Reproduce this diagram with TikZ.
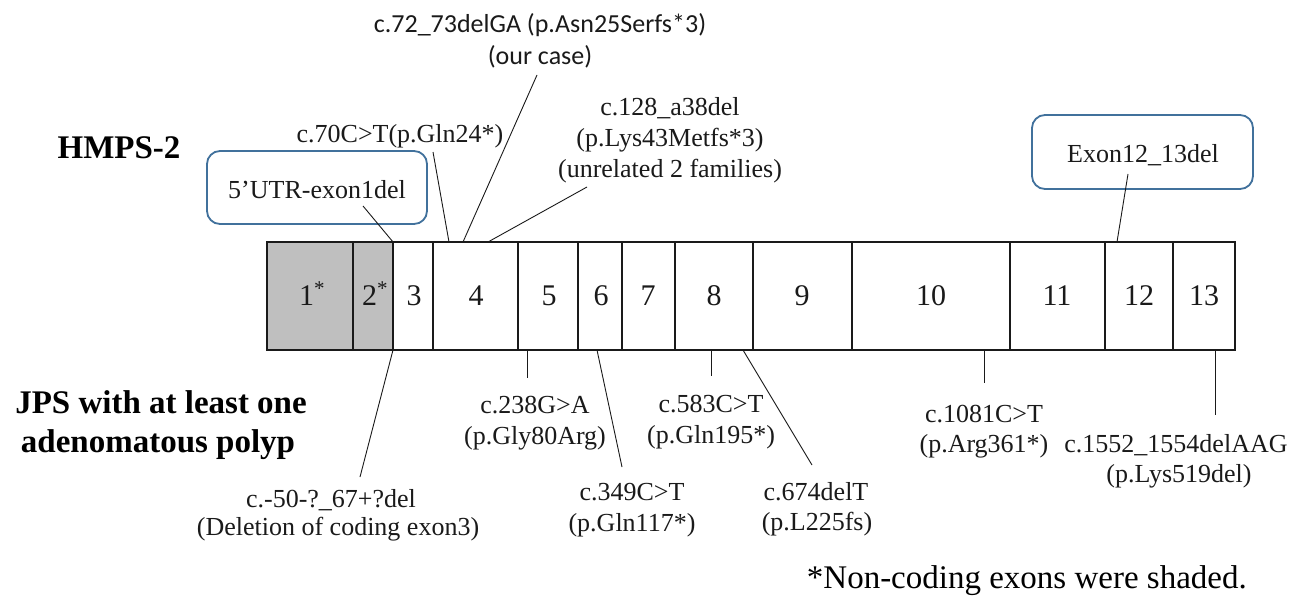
\documentclass[tikz,border=0pt]{standalone}
\usepackage{fontspec}
\setmainfont{Liberation Serif}
\newfontfamily\calib{Carlito}
\definecolor{boxblue}{HTML}{41719C}
\definecolor{exgray}{HTML}{BFBFBF}
\definecolor{ink}{HTML}{1A1A1A}
\begin{document}
\begin{tikzpicture}[x=1pt,y=-1pt,
  lbl/.style={font=\fontsize{26}{31}\selectfont, inner sep=0pt, anchor=base, text=ink},
  sanslbl/.style={font=\calib\fontsize{26}{31}\selectfont, inner sep=0pt, anchor=base, text=ink},
  boldlbl/.style={font=\fontsize{33}{40}\selectfont\bfseries, inner sep=0pt, anchor=base, text=black},
  exnum/.style={font=\fontsize{30}{36}\selectfont, inner sep=0pt, anchor=base, text=ink},
  conn/.style={draw=ink, line width=0.9pt},
  exonbox/.style={draw=ink, line width=1.8pt},
  callout/.style={draw=boxblue, line width=1.8pt, rounded corners=13pt, fill=white}
]
\useasboundingbox[fill=white] (0,0) rectangle (1293,602);

% ---- gene exons ----
\fill[exgray] (267,242) rectangle (393,350);
\foreach \xa/\xb in {267/353,353/393,393/433,433/518,518/578,578/622,622/675,675/753,753/852,852/1010,1010/1105,1105/1173,1173/1235}
  {\draw[exonbox] (\xa,242) rectangle (\xb,350);}
\draw[exonbox] (267,242) rectangle (1235,350);

\node[exnum] (e1) at (312,305) {1\textsuperscript{*}};
\node[exnum] (e2) at (375,305) {2\textsuperscript{*}};
\node[exnum] (e3) at (414,305) {3};
\node[exnum] (e4) at (476,305) {4};
\node[exnum] (e5) at (549,305) {5};
\node[exnum] (e6) at (601,305) {6};
\node[exnum] (e7) at (648,305) {7};
\node[exnum] (e8) at (714,305) {8};
\node[exnum] (e9) at (802,305) {9};
\node[exnum] (e10) at (931,305) {10};
\node[exnum] (e11) at (1057,305) {11};
\node[exnum] (e12) at (1139,305) {12};
\node[exnum] (e13) at (1204,305) {13};

% ---- side titles ----
\node[boldlbl] (hmps) at (119,158) {HMPS-2};
\node[boldlbl] (jps1) at (161,413) {JPS with at least one};
\node[boldlbl] (jps2) at (158,452) {adenomatous polyp};

% ---- callout boxes ----
\draw[callout] (207,151) rectangle (427,224);
\node[lbl] (utr) at (317,198) {5’UTR-exon1del};
\draw[callout] (1032,115) rectangle (1253,189);
\node[lbl] (ex1213) at (1143,162) {Exon12\_13del};

% ---- top labels ----
\node[lbl] (t70) at (400,142) {c.70C>T(p.Gln24*)};
\node[sanslbl] (t72a) at (540,33) {c.72\_73delGA (p.Asn25Serfs*3)};
\node[sanslbl] (t72b) at (540,64) {(our case)};
\node[lbl] (t128a) at (670,115) {c.128\_a38del};
\node[lbl] (t128b) at (670,146) {(p.Lys43Metfs*3)};
\node[lbl] (t128c) at (670,177) {(unrelated 2 families)};

% ---- bottom labels ----
\node[lbl] (b50a) at (331,507) {c.-50-?\_67+?del};
\node[lbl] (b50b) at (338,535) {(Deletion of coding exon3)};
\node[lbl] (b238a) at (535,413) {c.238G>A};
\node[lbl] (b238b) at (535,444) {(p.Gly80Arg)};
\node[lbl] (b349a) at (632,500) {c.349C>T};
\node[lbl] (b349b) at (632,531) {(p.Gln117*)};
\node[lbl] (b583a) at (711,412) {c.583C>T};
\node[lbl] (b583b) at (711,443) {(p.Gln195*)};
\node[lbl] (b674a) at (816,500) {c.674delT};
\node[lbl] (b674b) at (817,530) {(p.L225fs)};
\node[lbl] (b1081a) at (984,422) {c.1081C>T};
\node[lbl] (b1081b) at (984,452) {(p.Arg361*)};
\node[lbl] (b1552a) at (1176,452) {c.1552\_1554delAAG};
\node[lbl] (b1552b) at (1179,482) {(p.Lys519del)};
\node[font=\fontsize{33}{40}\selectfont, inner sep=0pt, anchor=base east, text=black] (note) at (1247,588) {*Non-coding exons were shaded.};

% ---- connector end points ----
\coordinate (cUtrA) at (363,206);  \coordinate (cUtrB) at (393,242);
\coordinate (c70A) at (433,152);   \coordinate (c70B) at (449,242);
\coordinate (c72A) at (537,75);    \coordinate (c72B) at (463,242);
\coordinate (c128A) at (587,187);  \coordinate (c128B) at (488,242);
\coordinate (c1213A) at (1128,174);\coordinate (c1213B) at (1117,242);
\coordinate (c50A) at (393,350);   \coordinate (c50B) at (360,477);
\coordinate (c238A) at (527,350);  \coordinate (c238B) at (527,378);
\coordinate (c349A) at (597,350);  \coordinate (c349B) at (622,467);
\coordinate (c583A) at (711,350);  \coordinate (c583B) at (711,376);
\coordinate (c674A) at (743,350);  \coordinate (c674B) at (812,465);
\coordinate (c1081A) at (984,350); \coordinate (c1081B) at (984,383);
\coordinate (c1552A) at (1215,350);\coordinate (c1552B) at (1215,415);

\foreach \p in {Utr,70,72,128,1213,50,238,349,583,674,1081,1552}
  {\draw[conn] (c\p A) -- (c\p B);}
\end{tikzpicture}
\end{document}
